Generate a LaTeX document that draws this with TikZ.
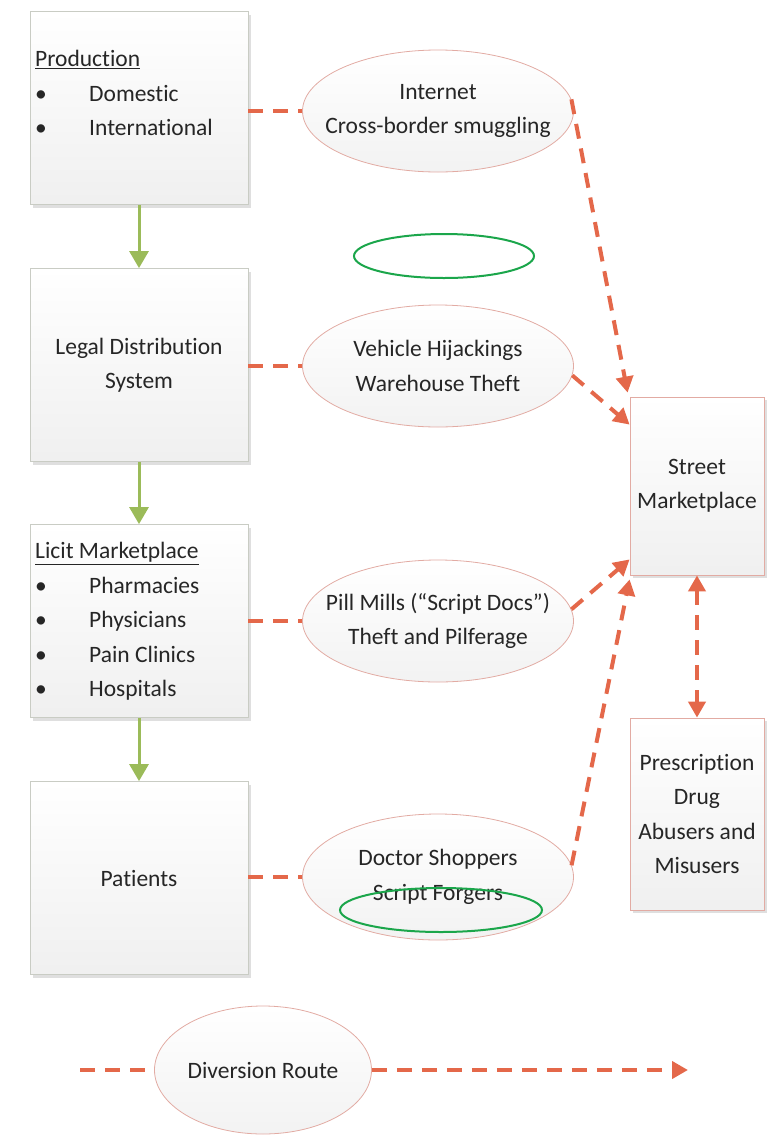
\documentclass[tikz,border=0pt]{standalone}
\usepackage{fontspec}
\setmainfont{Carlito}[Ligatures={NoCommon}]
\usetikzlibrary{shapes.geometric,arrows.meta,shadows}
\definecolor{divred}{HTML}{E4684A}
\definecolor{flowgreen}{HTML}{9BBB59}
\definecolor{boxline}{HTML}{C9CCC4}
\definecolor{pinkline}{HTML}{E2ABA3}
\definecolor{markgreen}{HTML}{1BA64B}
\newcommand{\bitem}[1]{\makebox[54pt][l]{\textbullet}#1}
\begin{document}
\begin{tikzpicture}[x=1pt, y=-1pt,
	every node/.style={font=\fontsize{23.5}{34.5}\selectfont, text=black!85},
	stagebox/.style={draw=boxline, thick, top color=white, bottom color=black!6, minimum width=218pt, minimum height=193pt, inner sep=0pt, align=center, drop shadow={shadow xshift=3pt, shadow yshift=-3pt, opacity=0.25}},
	marketbox/.style={stagebox, draw=pinkline, minimum width=134pt},
	routeoval/.style={ellipse, draw=pinkline, thick, top color=white, bottom color=black!5, minimum width=271pt, minimum height=122pt, inner xsep=-45pt, inner ysep=0pt, align=center},
	flow/.style={-{Triangle[length=17pt, width=19pt]}, line width=3pt, flowgreen},
	divert/.style={line width=4pt, divred, dash pattern=on 15pt off 10pt},
	divarrow/.style={divert, -{Triangle[length=16pt, width=17pt]}},
	hilite/.style={markgreen, line width=2pt}]
	\useasboundingbox (0,0) rectangle (777,1136);
	\node[stagebox] (prod) at (139,108) {};
	\node[anchor=north west, align=left, inner sep=0pt] (prodtxt) at (35,50) {\underline{Production}\\ \bitem{Domestic}\\ \bitem{International}};
	\node[stagebox] (legal) at (139,365) {Legal Distribution\\System};
	\node[stagebox] (licit) at (139,621) {};
	\node[anchor=north west, align=left, inner sep=0pt] (licittxt) at (35,542) {\underline{Licit Marketplace}\\ \bitem{Pharmacies}\\ \bitem{Physicians}\\ \bitem{Pain Clinics}\\ \bitem{Hospitals}};
	\node[stagebox] (pat) at (139,878) {Patients};
	\node[routeoval] (inet) at (438,111) {Internet\\Cross-border smuggling};
	\node[routeoval] (veh) at (438,366) {Vehicle Hijackings\\Warehouse Theft};
	\node[routeoval] (pill) at (438,621) {Pill Mills (“Script Docs”)\\Theft and Pilferage};
	\node[routeoval, minimum height=126pt] (doc) at (438,877) {Doctor Shoppers\\Script Forgers};
	\node[marketbox, minimum height=178pt] (street) at (697,486) {Street\\Marketplace};
	\node[marketbox, minimum height=192pt] (presc) at (697,814) {Prescription\\Drug\\Abusers and\\Misusers};
	\node[routeoval, minimum width=217pt, minimum height=128pt] (legend) at (263,1070) {Diversion Route};
	\coordinate (legA) at (80,1070);
	\coordinate (legB) at (688,1070);
	\draw[flow] (prod.south) -- (legal.north);
	\draw[flow] (legal.south) -- (licit.north);
	\draw[flow] (licit.south) -- (pat.north);
	\draw[divert] (prod.east |- inet.west) -- (inet.west);
	\draw[divert] (legal.east |- veh.west) -- (veh.west);
	\draw[divert] (licit.east |- pill.west) -- (pill.west);
	\draw[divert] (pat.east |- doc.west) -- (doc.west);
	\draw[divarrow] (inet.5) -- ([xshift=-2pt, yshift=4pt]street.north west);
	\draw[divarrow] (veh.-4) -- ([yshift=-28pt]street.north west);
	\draw[divarrow] (pill.5) -- ([yshift=16pt]street.south west);
	\draw[divarrow] (doc.5) -- ([yshift=-4pt]street.south west);
	\draw[divarrow, {Triangle[length=16pt, width=17pt]}-{Triangle[length=16pt, width=17pt]}] (street.south) -- (presc.north);
	\draw[divert] (legA) -- (legend.west);
	\draw[divarrow] (legend.east) -- (legB);
	\draw[hilite] (444,256) ellipse [x radius=90pt, y radius=22pt];
	\draw[hilite] (441,910) ellipse [x radius=101pt, y radius=22pt];
\end{tikzpicture}
\end{document}
